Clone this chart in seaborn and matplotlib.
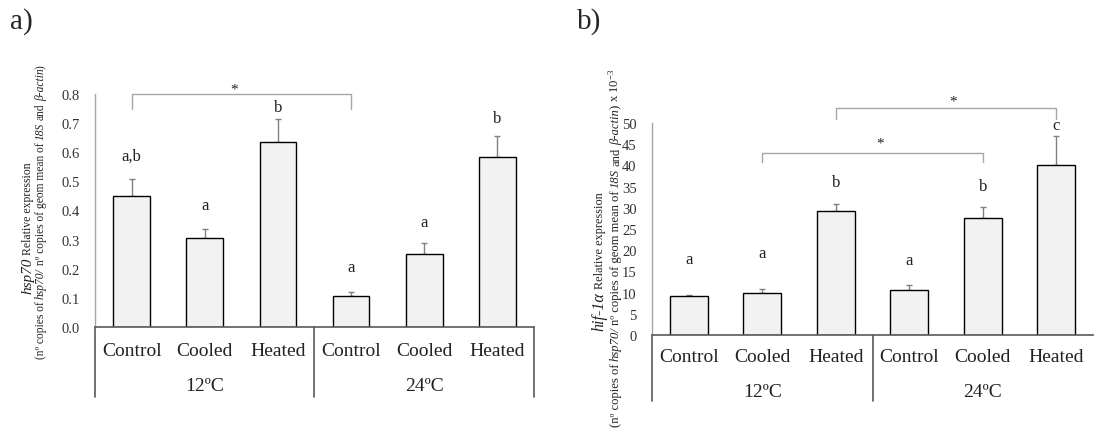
import numpy as np
import pandas as pd
import seaborn as sns
import matplotlib.pyplot as plt
from matplotlib.ticker import FormatStrFormatter
from matplotlib.transforms import IdentityTransform, offset_copy, blended_transform_factory

sns.set_style("white")
plt.rcParams['font.family'] = ['Liberation Serif', 'DejaVu Serif']
plt.rcParams['mathtext.fontset'] = 'custom'
plt.rcParams['mathtext.rm'] = 'Liberation Serif'
plt.rcParams['mathtext.it'] = 'Liberation Serif:italic'

# ----------------------------------
# Data
# ----------------------------------
treatments = ["Control", "Cooled", "Heated"]
temps = ["12ºC", "24ºC"]

hsp70_mean = [0.451, 0.305, 0.635, 0.105, 0.252, 0.585]
hsp70_err = [0.057, 0.033, 0.080, 0.016, 0.037, 0.071]
hsp70_letters = ["a,b", "a", "b", "a", "a", "b"]
hsp70_letter_y = [0.59, 0.42, 0.756, 0.206, 0.362, 0.718]

hif_mean = [9.1, 10.0, 29.2, 10.6, 27.5, 40.1]
hif_err = [0.4, 0.9, 1.8, 1.3, 2.7, 6.9]
hif_letters = ["a", "a", "b", "a", "b", "c"]
hif_letter_y = [17.9, 19.3, 36.0, 17.8, 35.2, 49.6]

W, H = 1094, 435
fig = plt.figure(figsize=(W / 100, H / 100), dpi=100)


def px_rect(l, t, r, b):
    return [l / W, 1 - b / H, (r - l) / W, (b - t) / H]


def draw_panel(ax, mean, err, letters, letter_y, ylim, step, fmt, width,
               box_h, lab_dy, grp_dy, right_line=True):
    groups = [f"{t} {tr}" for t in temps for tr in treatments]
    df = pd.DataFrame({"group": groups, "value": mean})
    sns.barplot(data=df, x="group", y="value", order=groups, color="#f2f2f2",
                saturation=1, edgecolor="black", linewidth=1, width=width,
                errorbar=None, ax=ax)
    x = np.arange(len(groups))
    # upper error bars only; drawn under the bars so the lower cap is hidden
    ax.errorbar(x, mean, yerr=[np.zeros(len(mean)), err], fmt='none',
                ecolor='#808080', elinewidth=1, capsize=2.5, capthick=1,
                zorder=0.5)
    for xi, s, yv in zip(x, letters, letter_y):
        ax.text(xi, yv, s, ha='center', va='center', fontsize=12, color='#222')

    ax.set_xlim(-0.5, 5.5)
    ax.set_ylim(*ylim)
    ax.set_yticks(np.arange(ylim[0], ylim[1] + step / 2, step))
    ax.yaxis.set_major_formatter(FormatStrFormatter(fmt))
    ax.tick_params(axis='y', length=0, pad=11, labelsize=10.5, labelcolor='#333')
    ax.set_xticks([])
    ax.set_xlabel('')
    ax.set_ylabel('')
    for s in ['top', 'right']:
        ax.spines[s].set_visible(False)
    ax.spines['left'].set_color('#a6a6a6')
    ax.spines['left'].set_linewidth(1)
    ax.spines['bottom'].set_color('#595959')
    ax.spines['bottom'].set_linewidth(1.2)

    # two-level category axis
    trans = blended_transform_factory(ax.transData, ax.transAxes)
    for i, g in enumerate(groups):
        ax.text(i, 0, treatments[i % 3], ha='center', va='center', fontsize=14,
                color='#222',
                transform=offset_copy(trans, fig=fig, y=-lab_dy, units='dots'))
    for j, t in enumerate(temps):
        ax.text(1 + 3 * j, 0, t, ha='center', va='center', fontsize=14,
                color='#222',
                transform=offset_copy(trans, fig=fig, y=-grp_dy, units='dots'))
    xs = [-0.5, 2.5, 5.5] if right_line else [-0.5, 2.5]
    for xv in xs:
        ax.plot([xv, xv], [0, -box_h], transform=trans, clip_on=False,
                color='#595959', lw=1.2)


def bracket(ax, x0, x1, y_lo, y_hi, y_star, x_star):
    ax.plot([x0, x0, x1, x1], [y_lo, y_hi, y_hi, y_lo], color='#a6a6a6',
            lw=1, clip_on=False)
    ax.text(x_star, y_star, '*', ha='center', va='center',
            fontsize=11, color='#222')


def vlabel(x, yc, parts):
    # rotated text pieces sharing one baseline (pixel coords)
    texts = [fig.text(0, 0, s, fontsize=sz, fontstyle=st, rotation=90,
                      rotation_mode='anchor', ha='left', va='baseline',
                      color='#222', transform=IdentityTransform())
             for s, sz, st, gap in parts]
    fig.canvas.draw()
    r = fig.canvas.get_renderer()
    lens = [t.get_window_extent(r).height for t in texts]
    gaps = [p[3] for p in parts]
    total = sum(lens) + sum(gaps)
    y = yc - total / 2
    for t, L, g in zip(texts, lens, gaps):
        y += g
        t.set_position((x, y))
        y += L


# ----------------------------------
# Panel a: hsp70
# ----------------------------------
box_a = 70 / (328 - 95)
ax_a = fig.add_axes(px_rect(95, 95, 534, 328))
draw_panel(ax_a, hsp70_mean, hsp70_err, hsp70_letters, hsp70_letter_y,
           (0, 0.8), 0.1, '%.1f', 0.5, box_a, 24, 59)
bracket(ax_a, 0, 3, 0.75, 0.80, 0.818, 1.4)

# ----------------------------------
# Panel b: hif-1a
# ----------------------------------
box_b = 66 / (336 - 124)
ax_b = fig.add_axes(px_rect(652, 124, 1093, 336))
draw_panel(ax_b, hif_mean, hif_err, hif_letters, hif_letter_y,
           (0, 50), 5, '%d', 0.52, box_b, 22, 57, right_line=False)
bracket(ax_b, 1, 4, 40.7, 42.9, 45.2, 2.6)
bracket(ax_b, 2, 5, 50.9, 53.5, 55.2, 3.6)

fig.text(10 / W, 1 - 22 / H, "a)", fontsize=21, va='center', ha='left')
fig.text(577 / W, 1 - 22 / H, "b)", fontsize=21, va='center', ha='left')

sz = 8.3
vlabel(31, H - 228, [("hsp70", 11, 'italic', 0),
                     ("Relative expression", 8.5, 'normal', 3)])
vlabel(44, H - 212, [("(nº copies of", sz, 'normal', 0),
                     ("hsp70/", sz, 'italic', 2.5),
                     ("nº copies of geom mean of", sz, 'normal', 2.5),
                     ("18S", sz, 'italic', 2.5),
                     ("and", sz, 'normal', 2.5),
                     ("β-actin", sz, 'italic', 2.5),
                     (")", sz, 'normal', 0)])
szb = 9.1
vlabel(603, H - 262, [("hif-1α", 11.5, 'italic', 0),
                      ("Relative expression", 8.8, 'normal', 3)])
vlabel(619, H - 248, [("(nº copies of", szb, 'normal', 0),
                      ("hsp70/", szb, 'italic', 2.5),
                      ("nº copies of geom mean of", szb, 'normal', 2.5),
                      ("18S", szb, 'italic', 2.5),
                      ("and", szb, 'normal', 2.5),
                      ("β-actin", szb, 'italic', 2.5),
                      (")", szb, 'normal', 0),
                      ("x 10$^{-3}$", szb, 'normal', 3)])

fig.savefig("out.png", dpi=100)
